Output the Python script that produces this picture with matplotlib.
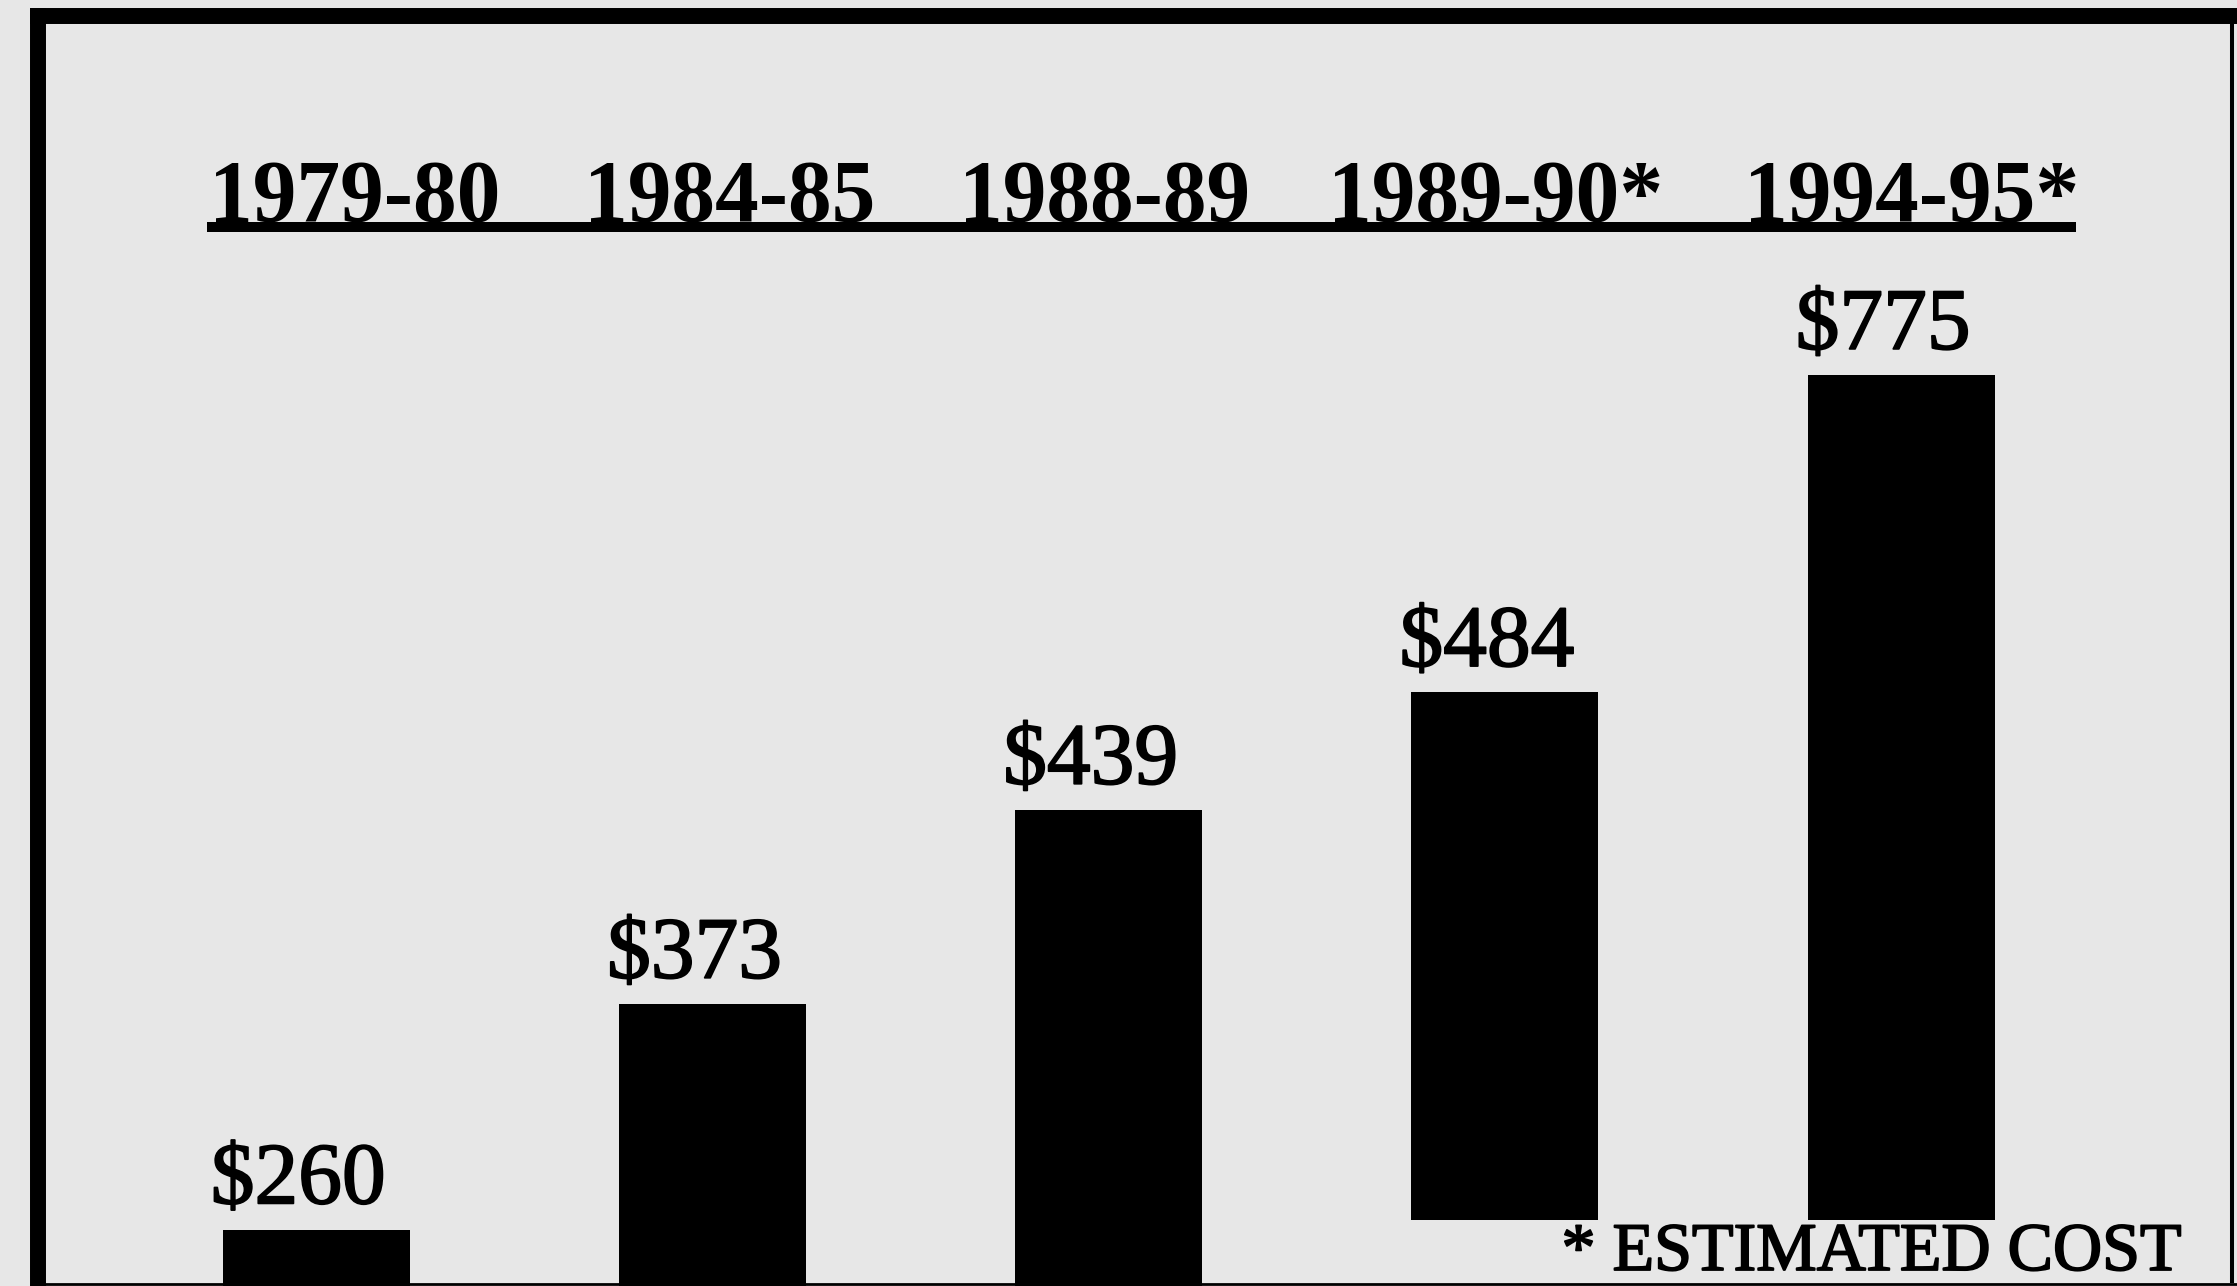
import matplotlib
matplotlib.use('Agg')
import matplotlib.pyplot as plt
from matplotlib.lines import Line2D
import matplotlib.patheffects as pe
import numpy as np

# ---- data ----
periods = ["1979-80", "1984-85", "1988-89", "1989-90*", "1994-95*"]
costs = [260, 373, 439, 484, 775]
footnote = "* ESTIMATED COST"

# ---- layout: the original bars do not share a common baseline ----
bar_base = [-269, -175, -63, 0, 0]
header_centers_px = [355, 730, 1105, 1496, 1912]

W, H, DPI = 2237, 1286, 100
BG = '#e7e7e7'
SERIF = ['Liberation Serif', 'DejaVu Serif']
ink = [pe.withStroke(linewidth=1.3, foreground='black')]

fig = plt.figure(figsize=(W / DPI, H / DPI), dpi=DPI)
fig.patch.set_facecolor(BG)
ax = fig.add_axes([0, 0, 1, 1])
ax.set_facecolor(BG)
ax.axis('off')

x = np.arange(len(periods))
ax.set_xlim(-0.7986, 4.8476)
ax.set_ylim(-60.6, 1119.3)

ax.bar(x, costs, width=0.472, bottom=bar_base, color='black', zorder=2)

for xi, v, b in zip(x, costs, bar_base):
    t = ax.annotate(f"${v}", xy=(xi, b + v), xytext=(-13, 19),
                    textcoords='offset points', ha='center', va='baseline',
                    fontsize=63, family=SERIF, color='black')
    t.set_path_effects(ink)

# column headings
for cx, p in zip(header_centers_px, periods):
    fig.text(cx / W, 1 - 221 / H, p, ha='center', va='baseline',
             fontsize=63, fontweight='bold', family=SERIF, color='black')

# heading underline
fig.add_artist(Line2D([207 / W, 2076 / W], [1 - 227 / H, 1 - 227 / H],
                      transform=fig.transFigure, color='black', lw=7.2,
                      solid_capstyle='butt'))

# footnote
ft = fig.text(2181 / W, 1 - 1270 / H, footnote, ha='right', va='baseline',
              fontsize=49, family=SERIF, color='black')
ft.set_path_effects(ink)

# frame
def fline(xs, ys, lw):
    fig.add_artist(Line2D([v / W for v in xs], [1 - v / H for v in ys],
                          transform=fig.transFigure, color='black', lw=lw,
                          solid_capstyle='butt'))

fline([30, W], [16, 16], 11.5)        # top
fline([38, 38], [8, H], 11.5)         # left
fline([2232, 2232], [16, 1283], 2.9)  # right
fline([38, W], [1283.5, 1283.5], 2.0) # bottom

fig.savefig('out.png', dpi=DPI, facecolor=BG)
